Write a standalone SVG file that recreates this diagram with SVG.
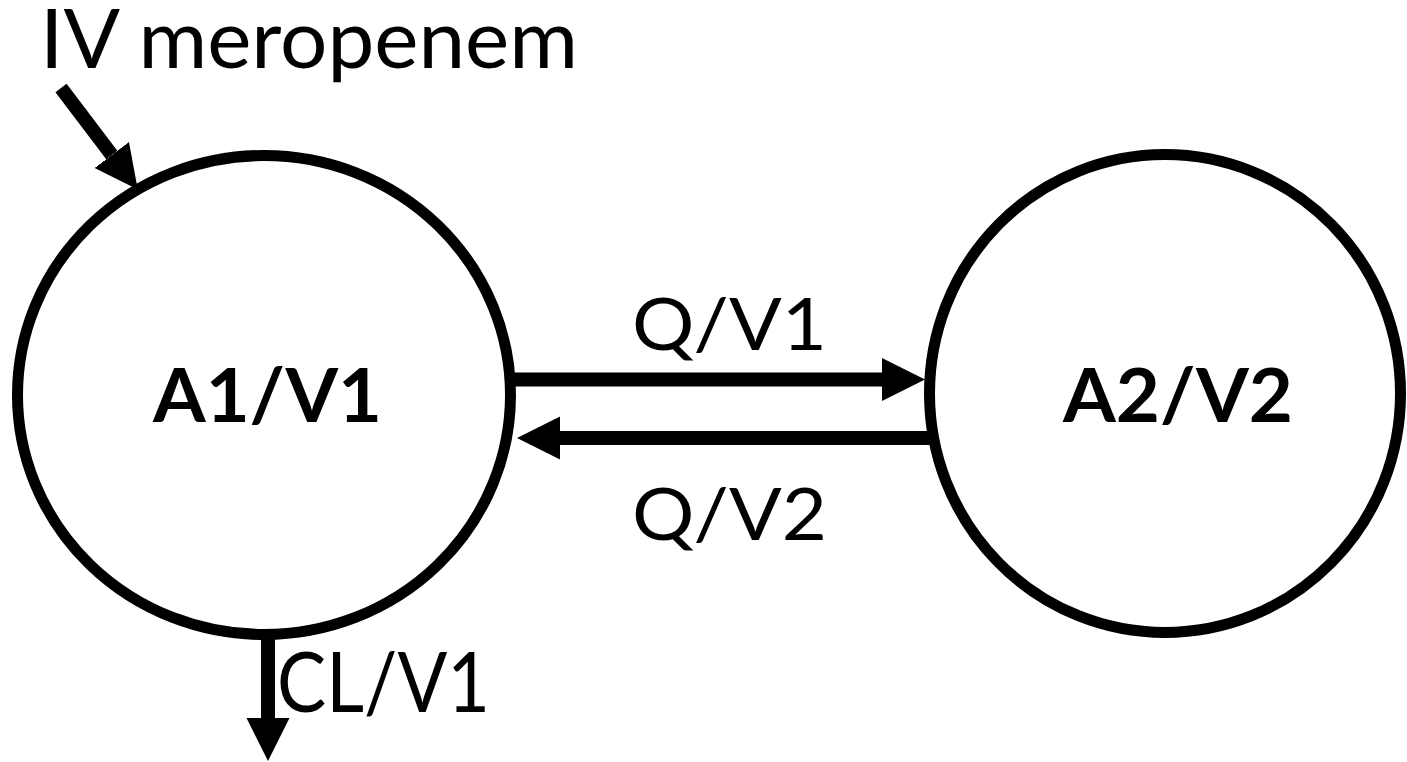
<svg xmlns="http://www.w3.org/2000/svg" width="1407" height="762" viewBox="0 0 1407 762">
  <defs>
    <style>
      .comp { fill: #ffffff; stroke: #000000; stroke-width: 11; }
      .flow { fill: none; stroke: #000000; stroke-width: 14; }
      .lbl { font-family: Lato, "Liberation Sans", sans-serif; fill: #000000; }
      .name { font-weight: bold; font-size: 75px; }
      .rate { font-size: 72px; }
    </style>
    <marker id="head" markerUnits="userSpaceOnUse" viewBox="0 -22 43 44" refX="0" refY="0" markerWidth="43" markerHeight="44" orient="auto">
      <path d="M0,-21.5 L43,0 L0,21.5 Z" fill="#000000"/>
    </marker>
  </defs>
  <rect width="1407" height="762" fill="#ffffff"/>

  <!-- central compartment -->
  <g id="central">
    <ellipse class="comp" cx="264" cy="395" rx="246.5" ry="239.5"/>
    <text class="lbl name" x="153" y="422" textLength="229" lengthAdjust="spacingAndGlyphs">A1/V1</text>
  </g>

  <!-- peripheral compartment -->
  <g id="peripheral">
    <ellipse class="comp" cx="1165" cy="393.5" rx="235.5" ry="239"/>
    <text class="lbl name" x="1063" y="422" textLength="230" lengthAdjust="spacingAndGlyphs">A2/V2</text>
  </g>

  <!-- dosing label -->
  <g id="dose">
    <text class="lbl" x="40" y="68" font-size="81" textLength="538" lengthAdjust="spacingAndGlyphs">IV meropenem</text>
  </g>

  <!-- transfer, input and elimination arrows -->
  <g id="connectors">
    <line class="flow" x1="61" y1="88" x2="111.8" y2="155.1" stroke-width="12" marker-end="url(#head)"/>
    <line class="flow" x1="514" y1="379.5" x2="882" y2="379.5" marker-end="url(#head)"/>
    <line class="flow" x1="932" y1="438" x2="560" y2="438" marker-end="url(#head)"/>
    <line class="flow" x1="268" y1="630" x2="268" y2="718" marker-end="url(#head)"/>
    <text class="lbl rate" x="632" y="350" textLength="195" lengthAdjust="spacingAndGlyphs">Q/V1</text>
    <text class="lbl rate" x="632" y="540" textLength="195" lengthAdjust="spacingAndGlyphs">Q/V2</text>
    <text class="lbl" x="277" y="712" font-size="84" textLength="213" lengthAdjust="spacingAndGlyphs">CL/V1</text>
  </g>
</svg>
